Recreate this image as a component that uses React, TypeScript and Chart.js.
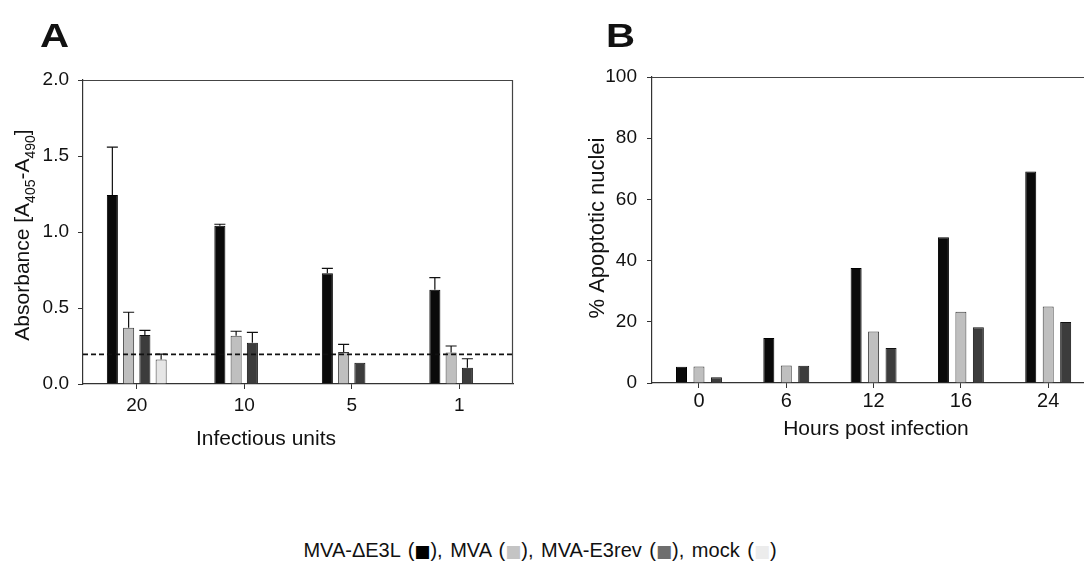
import React, { useEffect, useRef } from 'react';
import { Chart, registerables } from 'chart.js';

Chart.register(...registerables);

const FONT = '"Liberation Sans", Arial, Helvetica, sans-serif';

// ---------- Panel A data ----------
const infectiousUnits = ['20', '10', '5', '1'];
const absTickValues = [0, 0.5, 1.0, 1.5, 2.0];
const absMVAdE3L = [1.243, 1.041, 0.728, 0.62];
const absMVA = [0.37, 0.318, 0.21, 0.208];
const absMVAE3rev = [0.322, 0.272, 0.14, 0.107];
const absMock = [0.162, null, null, null];
const errMVAdE3L = [0.316, 0.01, 0.033, 0.08];
const errMVA = [0.102, 0.029, 0.051, 0.042];
const errMVAE3rev = [0.031, 0.068, 0, 0.059];
const errMock = [0.035, null, null, null];
const absCutoff = 0.195;

// ---------- Panel B data ----------
const hoursLabels = ['0', '6', '12', '16', '24'];
const apopTickValues = [0, 20, 40, 60, 80, 100];
const apopMVAdE3L = [5.3, 14.7, 37.6, 47.6, 69.1];
const apopMVA = [5.4, 5.7, 16.8, 23.3, 25.0];
const apopMVAE3rev = [1.9, 5.6, 11.4, 18.2, 19.9];

// ---------- Series / legend ----------
const seriesNames = ['MVA-ΔE3L', 'MVA', 'MVA-E3rev', 'mock'];
const seriesFill = ['#0a0a0a', '#bfbfbf', '#3c3c3c', '#e6e6e6'];
const seriesBorder = ['#000000', '#3a3a3a', '#111111', '#3a3a3a'];
const legendSwatch = ['#000000', '#c4c4c4', '#6e6e6e', '#ececec'];

function errorBarPlugin(errs: (number | null)[][]) {
  return {
    id: 'errorBars',
    afterDatasetsDraw(chart: any) {
      const ctx = chart.ctx;
      const y = chart.scales.y;
      ctx.save();
      ctx.strokeStyle = '#111';
      ctx.lineWidth = 1.2;
      chart.data.datasets.forEach((ds: any, i: number) => {
        const meta = chart.getDatasetMeta(i);
        meta.data.forEach((el: any, j: number) => {
          const v = ds.data[j];
          const e = errs[i] ? errs[i][j] : null;
          if (v == null || e == null || e <= 0) return;
          const top = y.getPixelForValue(v + e);
          const x = el.x;
          const half = el.width / 2;
          ctx.beginPath();
          ctx.moveTo(x, el.y);
          ctx.lineTo(x, top);
          ctx.moveTo(x - half, top);
          ctx.lineTo(x + half, top);
          ctx.stroke();
        });
      });
      ctx.restore();
    },
  };
}

function cutoffPlugin(value: number) {
  return {
    id: 'cutoff',
    afterDatasetsDraw(chart: any) {
      const ctx = chart.ctx;
      const a = chart.chartArea;
      const yy = chart.scales.y.getPixelForValue(value);
      ctx.save();
      ctx.strokeStyle = '#111';
      ctx.lineWidth = 1.6;
      ctx.setLineDash([5, 3]);
      ctx.beginPath();
      ctx.moveTo(a.left, yy);
      ctx.lineTo(a.right, yy);
      ctx.stroke();
      ctx.restore();
    },
  };
}

function framePlugin(drawRight: boolean) {
  return {
    id: 'frame',
    afterDraw(chart: any) {
      const ctx = chart.ctx;
      const a = chart.chartArea;
      ctx.save();
      ctx.strokeStyle = '#444';
      ctx.lineWidth = 1.2;
      ctx.beginPath();
      ctx.moveTo(a.left, a.top + 0.5);
      ctx.lineTo(a.right, a.top + 0.5);
      if (drawRight) {
        ctx.moveTo(a.right - 0.5, a.top);
        ctx.lineTo(a.right - 0.5, a.bottom);
      }
      ctx.stroke();
      ctx.restore();
    },
  };
}

type Part = { t: string; sub?: boolean };

function drawRotated(ctx: any, parts: Part[], x: number, y: number, size: number) {
  ctx.save();
  ctx.translate(x, y);
  ctx.rotate(-Math.PI / 2);
  ctx.fillStyle = '#111';
  ctx.textBaseline = 'alphabetic';
  ctx.textAlign = 'left';
  const fonts = parts.map((p) => (p.sub ? `${Math.round(size * 0.68)}px ${FONT}` : `${size}px ${FONT}`));
  let total = 0;
  parts.forEach((p, i) => {
    ctx.font = fonts[i];
    total += ctx.measureText(p.t).width;
  });
  let cx = -total / 2;
  parts.forEach((p, i) => {
    ctx.font = fonts[i];
    ctx.fillText(p.t, cx, p.sub ? size * 0.3 : 0);
    cx += ctx.measureText(p.t).width;
  });
  ctx.restore();
}

function textPlugin(cfg: {
  letter: string; letterX: number; letterY: number;
  xTitle: string; xTitleX: number; xTitleY: number;
  yParts: Part[]; yTitleX: number; yTitleY: number; ySize: number;
}) {
  return {
    id: 'texts',
    afterDraw(chart: any) {
      const ctx = chart.ctx;
      ctx.save();
      ctx.fillStyle = '#111';
      // panel letter
      ctx.save();
      ctx.translate(cfg.letterX, cfg.letterY);
      ctx.scale(1.22, 1);
      ctx.font = `bold 33px ${FONT}`;
      ctx.textAlign = 'left';
      ctx.textBaseline = 'alphabetic';
      ctx.fillText(cfg.letter, 0, 0);
      ctx.restore();
      // x title
      ctx.font = `21px ${FONT}`;
      ctx.textAlign = 'center';
      ctx.textBaseline = 'alphabetic';
      ctx.fillText(cfg.xTitle, cfg.xTitleX, cfg.xTitleY);
      ctx.restore();
      drawRotated(ctx, cfg.yParts, cfg.yTitleX, cfg.yTitleY, cfg.ySize);
    },
  };
}

const tickFont = { family: FONT, size: 19 };

export default function App() {
  const refA = useRef<HTMLCanvasElement | null>(null);
  const refB = useRef<HTMLCanvasElement | null>(null);

  useEffect(() => {
    const seriesA = [absMVAdE3L, absMVA, absMVAE3rev, absMock];
    const chartA = new Chart(refA.current as HTMLCanvasElement, {
      type: 'bar',
      data: {
        labels: infectiousUnits,
        datasets: seriesA.map((d, i) => ({
          label: seriesNames[i],
          data: d as any,
          backgroundColor: seriesFill[i],
          borderColor: seriesBorder[i],
          borderWidth: 1,
          categoryPercentage: 0.605,
          barPercentage: 0.68,
        })),
      },
      options: {
        animation: false,
        responsive: false,
        events: [],
        layout: { padding: { left: 0, top: 80, right: 27, bottom: 0 } },
        plugins: { legend: { display: false }, tooltip: { enabled: false } },
        scales: {
          x: {
            grid: { display: true, drawOnChartArea: false, drawTicks: true, tickLength: 5, color: '#333', lineWidth: 1, offset: false },
            border: { display: true, color: '#333', width: 1.2 },
            ticks: { color: '#111', font: tickFont, padding: 5, maxRotation: 0 },
            afterFit: (s: any) => { s.height = 86; },
          },
          y: {
            min: 0,
            max: 2,
            grid: { display: true, drawOnChartArea: false, drawTicks: true, tickLength: 5, color: '#333', lineWidth: 1 },
            border: { display: true, color: '#333', width: 1.2 },
            ticks: { color: '#111', font: tickFont, padding: 9, callback: (v: any) => Number(v).toFixed(1) },
            afterBuildTicks: (s: any) => { s.ticks = absTickValues.map((v) => ({ value: v })); },
            afterFit: (s: any) => { s.width = 83; },
          },
        },
      } as any,
      plugins: [
        errorBarPlugin([errMVAdE3L, errMVA, errMVAE3rev, errMock]),
        cutoffPlugin(absCutoff),
        framePlugin(true),
        textPlugin({
          letter: 'A', letterX: 40, letterY: 47,
          xTitle: 'Infectious units', xTitleX: 266, xTitleY: 445,
          yParts: [{ t: 'Absorbance [A' }, { t: '405', sub: true }, { t: '-A' }, { t: '490', sub: true }, { t: ']' }],
          yTitleX: 28.5, yTitleY: 235, ySize: 21,
        }),
      ],
    });

    const seriesB = [apopMVAdE3L, apopMVA, apopMVAE3rev];
    const chartB = new Chart(refB.current as HTMLCanvasElement, {
      type: 'bar',
      data: {
        datasets: seriesB.map((d, i) => ({
          label: seriesNames[i],
          data: d.map((v, k) => ({ x: k, y: v })),
          backgroundColor: seriesFill[i],
          borderColor: seriesBorder[i],
          borderWidth: 1,
          categoryPercentage: 0.6,
          barPercentage: 0.63,
        })),
      },
      options: {
        animation: false,
        responsive: false,
        events: [],
        layout: { padding: { left: 0, top: 77, right: 0, bottom: 0 } },
        plugins: { legend: { display: false }, tooltip: { enabled: false } },
        scales: {
          x: {
            type: 'linear',
            offset: false,
            min: -0.538,
            max: 4.41,
            grid: { display: true, drawOnChartArea: false, drawTicks: true, tickLength: 5, color: '#333', lineWidth: 1, offset: false },
            border: { display: true, color: '#333', width: 1.2 },
            ticks: { color: '#111', font: { family: FONT, size: 20 }, padding: 1, maxRotation: 0, callback: (v: any) => hoursLabels[v] ?? '' },
            afterBuildTicks: (s: any) => { s.ticks = hoursLabels.map((_, i) => ({ value: i })); },
            afterFit: (s: any) => { s.height = 87; },
          },
          y: {
            min: 0,
            max: 100,
            grid: { display: true, drawOnChartArea: false, drawTicks: true, tickLength: 5, color: '#333', lineWidth: 1 },
            border: { display: true, color: '#333', width: 1.2 },
            ticks: { color: '#111', font: tickFont, padding: 10 },
            afterBuildTicks: (s: any) => { s.ticks = apopTickValues.map((v) => ({ value: v })); },
            afterFit: (s: any) => { s.width = 112; },
          },
        },
      } as any,
      plugins: [
        framePlugin(false),
        textPlugin({
          letter: 'B', letterX: 66, letterY: 47,
          xTitle: 'Hours post infection', xTitleX: 336, xTitleY: 435,
          yParts: [{ t: '% Apoptotic nuclei' }],
          yTitleX: 64, yTitleY: 228, ySize: 22,
        }),
      ],
    });

    return () => {
      chartA.destroy();
      chartB.destroy();
    };
  }, []);

  return (
    <div
      style={{
        position: 'fixed', left: 0, top: 0, width: 1084, height: 561,
        background: '#fff', overflow: 'hidden', fontFamily: FONT, color: '#111',
      }}
    >
      <canvas ref={refA} width={540} height={470} style={{ position: 'absolute', left: 0, top: 0, width: 540, height: 470 }} />
      <canvas ref={refB} width={544} height={470} style={{ position: 'absolute', left: 540, top: 0, width: 544, height: 470 }} />
      <div
        style={{
          position: 'absolute', left: 240, width: 600, top: 539, height: 22,
          lineHeight: '22px', fontSize: 20, textAlign: 'center', whiteSpace: 'nowrap', wordSpacing: 2,
        }}
      >
        {seriesNames.map((n, i) => (
          <span key={n}>
            {n} (<span style={{ color: legendSwatch[i], fontFamily: '"DejaVu Sans", sans-serif', fontSize: 17, lineHeight: '0' }}>■</span>){i < seriesNames.length - 1 ? ', ' : ''}
          </span>
        ))}
      </div>
    </div>
  );
}
